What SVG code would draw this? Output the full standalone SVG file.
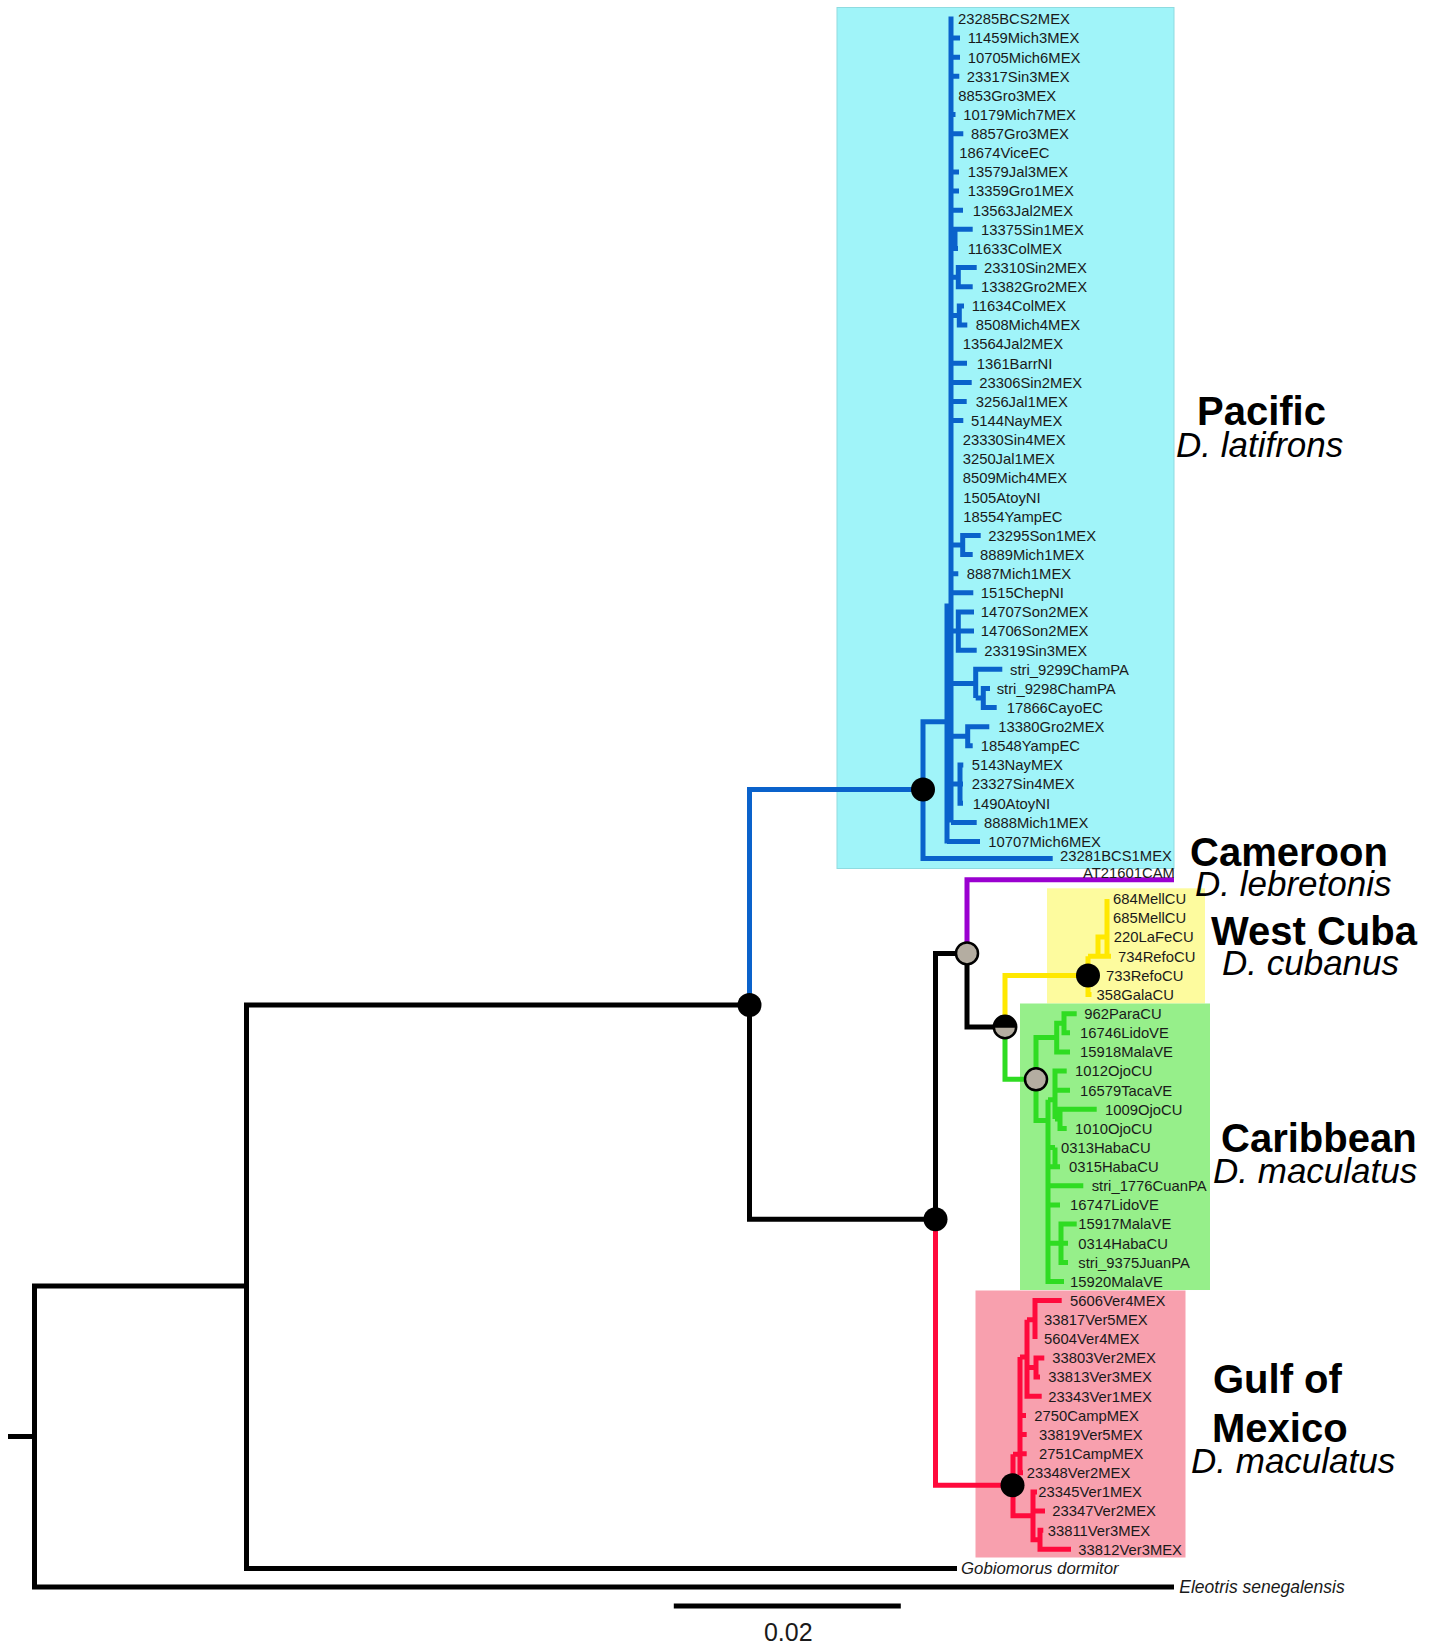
<svg xmlns="http://www.w3.org/2000/svg" width="1440" height="1648" viewBox="0 0 1440 1648">
<style>
.t{font-family:"Liberation Sans",Arial,sans-serif;font-size:14.8px;fill:#1a1a1a}
.ti{font-family:"Liberation Sans",Arial,sans-serif;font-style:italic;fill:#1a1a1a}
.hb{font-family:"Liberation Sans",Arial,sans-serif;font-weight:bold;font-size:40px;fill:#000}
.hi{font-family:"Liberation Sans",Arial,sans-serif;font-style:italic;font-size:35px;fill:#000}
.br{fill:none;stroke-width:5;stroke-linejoin:miter;stroke-linecap:butt}
.k{stroke:#000}.bl{stroke:#0a62cb}.ye{stroke:#ffe800}.gr{stroke:#2fdc22}.rd{stroke:#ff0a3c}.pu{stroke:#9a00d0}
.nb{fill:#000}
.ng{fill:#b4ada1;stroke:#000;stroke-width:2.5}
</style>
<rect width="1440" height="1648" fill="#fff"/>
<g id="clade-boxes">
<rect id="box-pacific" x="837" y="7.5" width="337" height="861" fill="#a0f4f9" stroke="#8fdbe0" stroke-width="1"/>
<rect id="box-westcuba" x="1047" y="888.3" width="158" height="115.2" fill="#fdfb9e"/>
<rect id="box-caribbean" x="1020" y="1003.5" width="190" height="286.5" fill="#96ef8a"/>
<rect id="box-gulf" x="975.5" y="1290.5" width="210" height="267" fill="#f8a0ae"/>
</g>
<g id="connectors">
<path class="br k" d="M8,1436.5 H34.5 M246.5,1286 H34.5 V1587 H1174 M749.5,1004.9 H246.5 V1568.4 H957 M749.5,1004.9 V1219.3 H935.5 M935.5,1219.3 V953.4 H967 M967,953.4 V1027 H1005"/>
<path class="br bl" d="M923,789.4 H749.5 V1004.9 M947,721.7 H923 V858.5 H1052.7"/>
<path class="br bl" stroke-width="6" d="M951,16.5 V822.4"/>
<path class="br bl" d="M951,606 H947 V843.5
M951,38 H960 M951,57.2 H960 M951,76.3 H959.3 M951,114.6 H955.5 M951,133.7 H963.3 M951,171.9 H959 M951,191.1 H959 M951,210.2 H963
M951,229.3 H972.7 M955,229.3 V248.5 M951,248.5 H958
M976.7,267.6 H958.3 V286.7 H972.7 M951,277.2 H958.3
M964,305.9 H959.3 V325 H967.3 M951,315.5 H959.3
M951,363.2 H967 M951,382.4 H971.7 M951,401.5 H966.7 M951,420.6 H963.3
M980.7,535.4 H962.7 V554.5 H972.7 M951,545 H962.7
M951,573.7 H958.3 M951,592.8 H973.3
M974,611.9 H958.3 V650.2 H976.7 M958.3,631.1 H974 M951,631.1 H958.3
M1002.3,669.3 H975.7 V698 M990,688.5 H983.3 V707.6 H996.7 M975.7,698 H983.3 M951,683.6 H975.7
M989.3,726.7 H967.7 V745.8 H972.7 M951,736.3 H967.7
M963.3,765 H960 V803.2 H963 M960,784.1 H963 M951,784.1 H960
M951,822.4 H976.7 M947,841.5 H980"/>
<path class="br pu" d="M967,953.4 V879.8 H1174"/>
<path class="br ye" d="M1005,1027 V975.4 H1088 M1088,956.3 V994.5 H1091.5 M1088,956.3 H1111 M1098,956.3 V937.1 H1107 M1107,898.9 V956.3"/>
<path class="br gr" d="M1005,1027 V1079.3 H1036 M1056.7,1037.6 H1036 V1120.5 H1048
M1064,1023.3 H1056.7 V1051.9 H1070 M1076.7,1013.7 H1064 V1032.8 H1070
M1048,1099.7 V1281.5 H1064 M1048,1099.7 H1055 M1066.7,1071.1 H1055 V1118.9 M1055,1090.2 H1070
M1096.7,1109.3 H1060 V1128.4 H1066.7 M1055,1118.9 H1060
M1048,1147.6 H1055 M1055,1147.6 V1166.7 M1048,1166.7 H1060 M1048,1185.8 H1083.3 M1048,1205 H1060
M1048,1243.2 H1061 M1076.7,1224.1 H1061 V1262.4 H1068 M1061,1243.2 H1068"/>
<path class="br rd" d="M935.5,1219.3 V1485.2 H1013 M1013,1454.2 V1515.8 H1033
M1037,1491.9 H1033 V1539.8 H1040 M1033,1511 H1045 M1043.3,1530.2 H1040 V1549.3 H1071
M1013,1454.2 H1020 M1020,1357 V1472.8 H1023 M1020,1415.4 H1026 M1020,1434.5 H1026.7 M1020,1453.7 H1026.7
M1020,1357 H1027 M1027,1319.7 V1396.3 H1041.7 M1027,1367.5 H1036 M1044.3,1358 H1036 V1377.1 H1040
M1027,1319.7 H1035 M1061.7,1300.6 H1035 V1338.9"/>
<path class="br k" d="M673.8,1606 H900.8"/>
</g>
<g id="node-markers">
<g id="n-ingroup"><circle class="nb" cx="749.5" cy="1004.9" r="12"/></g>
<g id="n-pacific"><circle class="nb" cx="923" cy="789.4" r="12"/></g>
<g id="n-atlantic"><circle class="nb" cx="935.5" cy="1219.3" r="12"/></g>
<g id="n-cam-carib"><circle class="ng" cx="967" cy="953.4" r="11"/></g>
<g id="n-cuba-carib"><path d="M993.8,1027 A11.2,11.2 0 0 1 1016.2,1027 Z" fill="#000"/><path d="M993.8,1027 A11.2,11.2 0 0 0 1016.2,1027 Z" fill="#b4ada1"/><circle cx="1005" cy="1027" r="11.2" fill="none" stroke="#000" stroke-width="2.5"/><path d="M993.8,1027 H1016.2" stroke="#000" stroke-width="1.5"/></g>
<g id="n-westcuba"><circle class="nb" cx="1088" cy="975.4" r="12"/></g>
<g id="n-caribbean"><circle class="ng" cx="1036" cy="1079.3" r="11"/></g>
<g id="n-gulf"><circle class="nb" cx="1012.5" cy="1485.2" r="12"/></g>
</g>
<g id="tips-pacific">
<text class="t" x="958" y="24.2">23285BCS2MEX</text>
<text class="t" x="967.7" y="43.3">11459Mich3MEX</text>
<text class="t" x="967.7" y="62.5">10705Mich6MEX</text>
<text class="t" x="966.7" y="81.6">23317Sin3MEX</text>
<text class="t" x="958.3" y="100.7">8853Gro3MEX</text>
<text class="t" x="963.3" y="119.9">10179Mich7MEX</text>
<text class="t" x="971" y="139">8857Gro3MEX</text>
<text class="t" x="959.3" y="158.1">18674ViceEC</text>
<text class="t" x="967.7" y="177.2">13579Jal3MEX</text>
<text class="t" x="967.7" y="196.4">13359Gro1MEX</text>
<text class="t" x="972.7" y="215.5">13563Jal2MEX</text>
<text class="t" x="981" y="234.6">13375Sin1MEX</text>
<text class="t" x="967.7" y="253.8">11633ColMEX</text>
<text class="t" x="984" y="272.9">23310Sin2MEX</text>
<text class="t" x="981" y="292">13382Gro2MEX</text>
<text class="t" x="971.7" y="311.2">11634ColMEX</text>
<text class="t" x="975.7" y="330.3">8508Mich4MEX</text>
<text class="t" x="962.7" y="349.4">13564Jal2MEX</text>
<text class="t" x="976.7" y="368.5">1361BarrNI</text>
<text class="t" x="979.3" y="387.7">23306Sin2MEX</text>
<text class="t" x="975.7" y="406.8">3256Jal1MEX</text>
<text class="t" x="971" y="425.9">5144NayMEX</text>
<text class="t" x="962.7" y="445.1">23330Sin4MEX</text>
<text class="t" x="962.7" y="464.2">3250Jal1MEX</text>
<text class="t" x="962.7" y="483.3">8509Mich4MEX</text>
<text class="t" x="963.3" y="502.5">1505AtoyNI</text>
<text class="t" x="963.3" y="521.6">18554YampEC</text>
<text class="t" x="988.3" y="540.7">23295Son1MEX</text>
<text class="t" x="980" y="559.8">8889Mich1MEX</text>
<text class="t" x="966.7" y="579">8887Mich1MEX</text>
<text class="t" x="980.7" y="598.1">1515ChepNI</text>
<text class="t" x="980.7" y="617.2">14707Son2MEX</text>
<text class="t" x="980.7" y="636.4">14706Son2MEX</text>
<text class="t" x="984.3" y="655.5">23319Sin3MEX</text>
<text class="t" x="1010" y="674.6">stri_9299ChamPA</text>
<text class="t" x="996.7" y="693.8">stri_9298ChamPA</text>
<text class="t" x="1006.7" y="712.9">17866CayoEC</text>
<text class="t" x="998.3" y="732">13380Gro2MEX</text>
<text class="t" x="980.7" y="751.1">18548YampEC</text>
<text class="t" x="971.7" y="770.3">5143NayMEX</text>
<text class="t" x="971.7" y="789.4">23327Sin4MEX</text>
<text class="t" x="972.7" y="808.5">1490AtoyNI</text>
<text class="t" x="984" y="827.7">8888Mich1MEX</text>
<text class="t" x="988.3" y="846.8">10707Mich6MEX</text>
<text class="t" x="1060" y="861.3">23281BCS1MEX</text>
</g>
<g id="tip-cameroon"><text class="t" x="1083" y="877.5">AT21601CAM</text></g>
<g id="tips-westcuba">
<text class="t" x="1113" y="904.2">684MellCU</text>
<text class="t" x="1113" y="923.3">685MellCU</text>
<text class="t" x="1113.8" y="942.4">220LaFeCU</text>
<text class="t" x="1118" y="961.6">734RefoCU</text>
<text class="t" x="1106" y="980.7">733RefoCU</text>
<text class="t" x="1096.6" y="999.8">358GalaCU</text>
</g>
<g id="tips-caribbean">
<text class="t" x="1084.3" y="1019">962ParaCU</text>
<text class="t" x="1080" y="1038.1">16746LidoVE</text>
<text class="t" x="1080" y="1057.2">15918MalaVE</text>
<text class="t" x="1075" y="1076.4">1012OjoCU</text>
<text class="t" x="1080" y="1095.5">16579TacaVE</text>
<text class="t" x="1105" y="1114.6">1009OjoCU</text>
<text class="t" x="1075" y="1133.7">1010OjoCU</text>
<text class="t" x="1061" y="1152.9">0313HabaCU</text>
<text class="t" x="1069" y="1172">0315HabaCU</text>
<text class="t" x="1091.7" y="1191.1">stri_1776CuanPA</text>
<text class="t" x="1070" y="1210.3">16747LidoVE</text>
<text class="t" x="1078.3" y="1229.4">15917MalaVE</text>
<text class="t" x="1078.3" y="1248.5">0314HabaCU</text>
<text class="t" x="1078.3" y="1267.7">stri_9375JuanPA</text>
<text class="t" x="1070" y="1286.8">15920MalaVE</text>
</g>
<g id="tips-gulf">
<text class="t" x="1070" y="1305.9">5606Ver4MEX</text>
<text class="t" x="1044" y="1325">33817Ver5MEX</text>
<text class="t" x="1044" y="1344.2">5604Ver4MEX</text>
<text class="t" x="1052.3" y="1363.3">33803Ver2MEX</text>
<text class="t" x="1048.3" y="1382.4">33813Ver3MEX</text>
<text class="t" x="1048.3" y="1401.6">23343Ver1MEX</text>
<text class="t" x="1034.3" y="1420.7">2750CampMEX</text>
<text class="t" x="1039" y="1439.8">33819Ver5MEX</text>
<text class="t" x="1039" y="1459">2751CampMEX</text>
<text class="t" x="1026.7" y="1478.1">23348Ver2MEX</text>
<text class="t" x="1038.3" y="1497.2">23345Ver1MEX</text>
<text class="t" x="1052.3" y="1516.3">23347Ver2MEX</text>
<text class="t" x="1047.7" y="1535.5">33811Ver3MEX</text>
<text class="t" x="1078.3" y="1554.6">33812Ver3MEX</text>
</g>
<g id="tips-outgroups">
<text class="ti" x="961" y="1574" font-size="16.8">Gobiomorus dormitor</text>
<text class="ti" x="1179.3" y="1593" font-size="17.5">Eleotris senegalensis</text>
</g>
<g id="clade-labels">
<text class="hb" x="1197" y="425" font-size="39.5">Pacific</text>
<text class="hi" x="1176" y="457">D. latifrons</text>
<text class="hb" x="1190" y="866">Cameroon</text>
<text class="hi" x="1195" y="896">D. lebretonis</text>
<text class="hb" x="1211" y="945">West Cuba</text>
<text class="hi" x="1222" y="975">D. cubanus</text>
<text class="hb" x="1221" y="1152">Caribbean</text>
<text class="hi" x="1213" y="1183">D. maculatus</text>
<text class="hb" x="1213" y="1393">Gulf of</text>
<text class="hb" x="1212" y="1442">Mexico</text>
<text class="hi" x="1191" y="1473">D. maculatus</text>
</g>
<g id="scale-bar">
<text x="788.3" y="1641" text-anchor="middle" font-family="Liberation Sans, Arial, sans-serif" font-size="25" fill="#1a1a1a">0.02</text>
</g>
</svg>
